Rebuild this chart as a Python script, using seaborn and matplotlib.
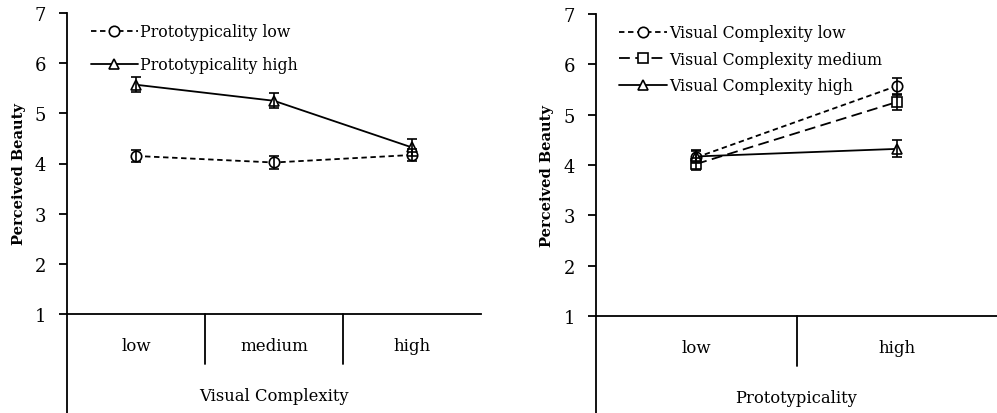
import numpy as np
import pandas as pd
import matplotlib
matplotlib.use("Agg")
import matplotlib.pyplot as plt
import seaborn as sns

# values
complexity_levels = ["low", "medium", "high"]
proto_levels = ["low", "high"]

# left panel: x = visual complexity, lines = prototypicality
proto_low_mean = [4.15, 4.02, 4.17]
proto_low_err = [0.12, 0.12, 0.12]
proto_high_mean = [5.57, 5.25, 4.32]
proto_high_err = [0.15, 0.15, 0.17]

# right panel: x = prototypicality, lines = visual complexity
vc_low_mean = [4.15, 5.57]
vc_low_err = [0.12, 0.15]
vc_medium_mean = [4.02, 5.25]
vc_medium_err = [0.12, 0.15]
vc_high_mean = [4.17, 4.32]
vc_high_err = [0.12, 0.17]

sns.set_style("white")
plt.rcParams["font.family"] = ["DejaVu Serif"]
plt.rcParams["font.size"] = 11
for key in ["text.color", "axes.labelcolor", "xtick.color", "ytick.color"]:
    plt.rcParams[key] = "black"


def draw_panel(ax, x_labels, x_title, series, dashes, markers, legend_labels,
               label_x, legend_spacing):
    rows = []
    for name, means, errs in series:
        for i, (m, e) in enumerate(zip(means, errs)):
            rows.append({"x": i, "y": m, "err": e, "grp": name})
    df = pd.DataFrame(rows)
    order = [s[0] for s in series]
    sns.lineplot(data=df, x="x", y="y", style="grp", style_order=order,
                 dashes=dashes, markers=markers, color="black", ax=ax,
                 legend=False, markersize=7.5, markerfacecolor="white",
                 markeredgecolor="black", markeredgewidth=1.2, linewidth=1.3)
    handles = list(ax.lines)
    for name, means, errs in series:
        ax.errorbar(range(len(means)), means, yerr=errs, fmt="none",
                    ecolor="black", elinewidth=1.2, capsize=3.5, capthick=1.2,
                    zorder=5)
    n = len(x_labels)
    ax.set_xlim(-0.5, n - 0.5)
    ax.set_ylim(1, 7)
    ax.set_yticks(range(1, 8))
    ax.set_xticks([])
    ax.set_xlabel("")
    ax.set_ylabel("Perceived Beauty", fontweight="bold", fontsize=10.5)
    ax.yaxis.set_label_coords(label_x, 0.467)
    for s in ["top", "right"]:
        ax.spines[s].set_visible(False)
    for s in ["left", "bottom"]:
        ax.spines[s].set_color("black")
        ax.spines[s].set_linewidth(1.3)
    ax.tick_params(axis="y", left=True, length=6, width=1.3, pad=9,
                   labelsize=13)
    # category table under the axis
    trans = ax.get_xaxis_transform()
    ax.plot([-0.5, -0.5], [0, -0.35], transform=trans, color="black",
            lw=1.3, clip_on=False)
    for b in range(1, n):
        ax.plot([b - 0.5, b - 0.5], [0, -0.166], transform=trans,
                color="black", lw=1.3, clip_on=False)
    for i, lab in enumerate(x_labels):
        ax.text(i, -0.103, lab, transform=trans, ha="center", va="center",
                fontsize=12)
    ax.text((n - 1) / 2, -0.27, x_title, transform=trans, ha="center",
            va="center", fontsize=11.8)
    ax.legend(handles=handles, labels=legend_labels, frameon=False,
              loc="upper left", bbox_to_anchor=(0.035, 0.997), handlelength=3.0,
              handletextpad=0.15, labelspacing=legend_spacing, fontsize=11.3,
              borderaxespad=0.2)


fig = plt.figure(figsize=(9.97, 4.14), dpi=100)
ax1 = fig.add_axes([67 / 997, 1 - 315 / 414, 414 / 997, 301 / 414])
ax2 = fig.add_axes([596 / 997, 1 - 317 / 414, 401 / 997, 302 / 414])

draw_panel(ax1, complexity_levels, "Visual Complexity",
           [("low", proto_low_mean, proto_low_err),
            ("high", proto_high_mean, proto_high_err)],
           {"low": (3, 2), "high": ""}, {"low": "o", "high": "^"},
           ["Prototypicality low", "Prototypicality high"],
           -41 / 414, 1.0)

draw_panel(ax2, proto_levels, "Prototypicality",
           [("low", vc_low_mean, vc_low_err),
            ("medium", vc_medium_mean, vc_medium_err),
            ("high", vc_high_mean, vc_high_err)],
           {"low": (3, 2), "medium": (6, 3), "high": ""},
           {"low": "o", "medium": "s", "high": "^"},
           ["Visual Complexity low", "Visual Complexity medium",
            "Visual Complexity high"],
           -42 / 401, 0.6)

fig.savefig("out.png", dpi=100)
